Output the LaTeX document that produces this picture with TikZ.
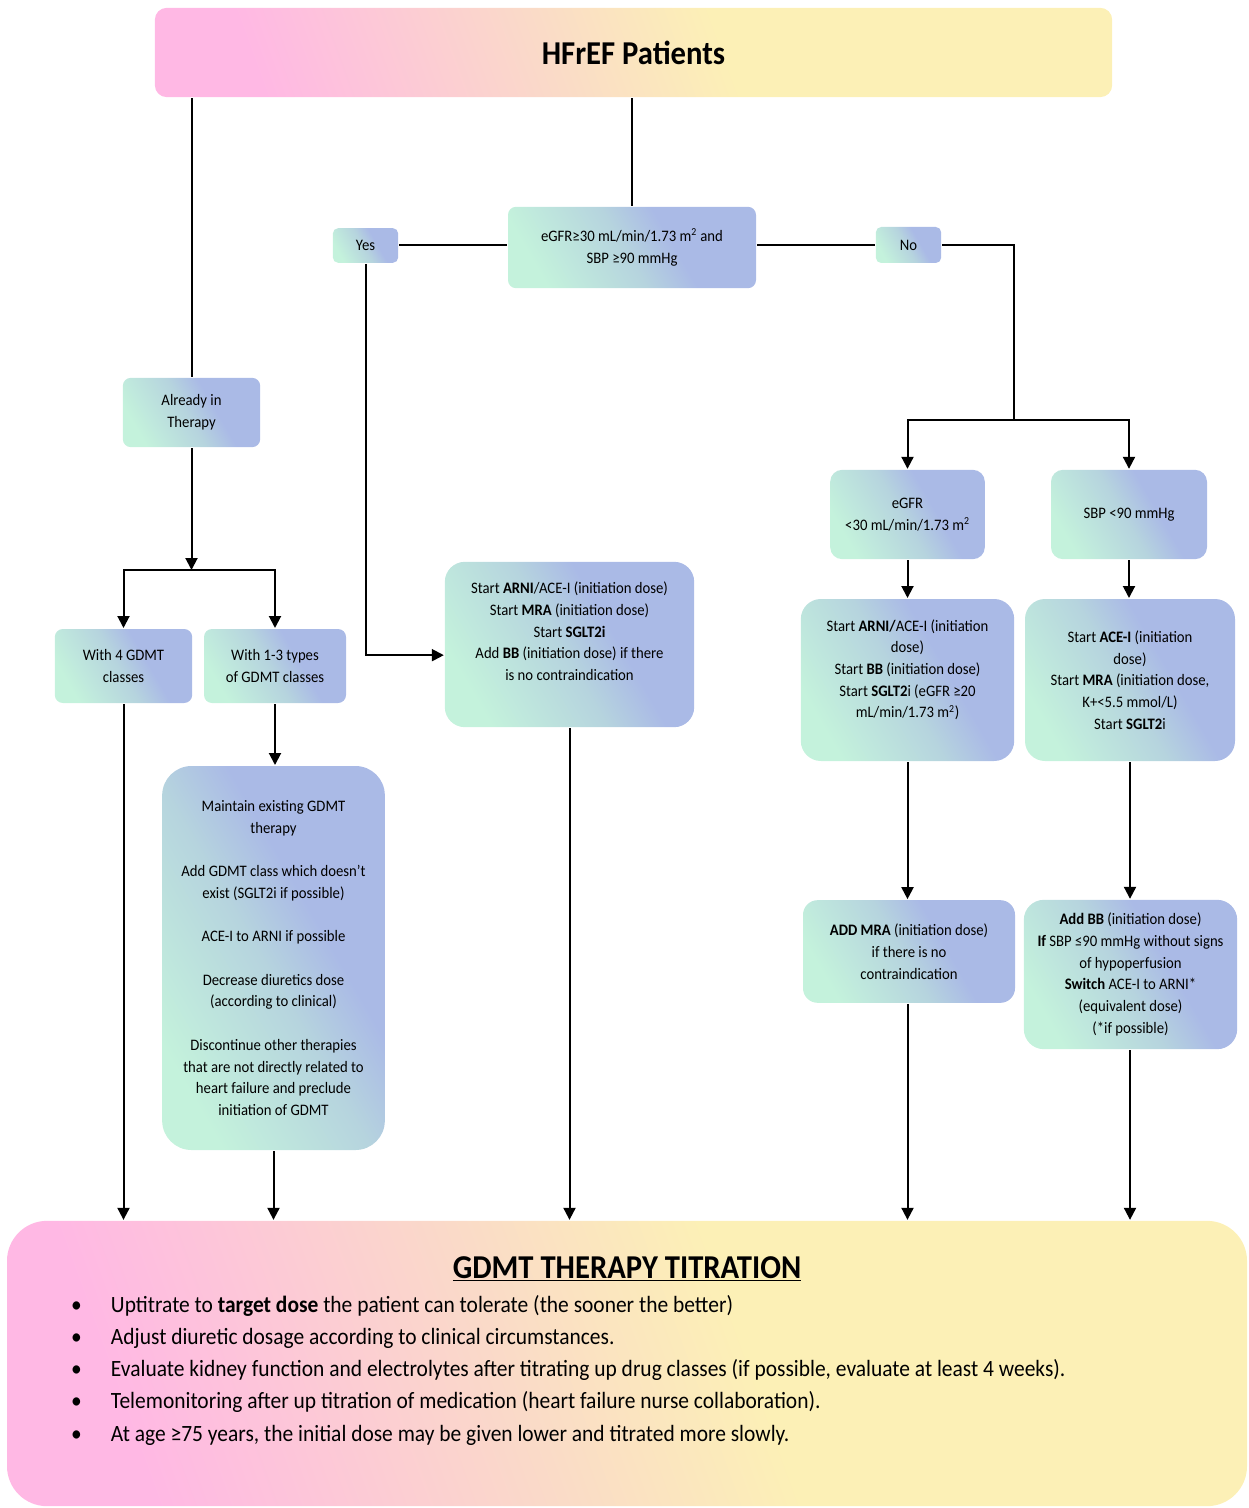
\documentclass[tikz,border=0pt]{standalone}
\usepackage{fontspec}
\setmainfont{Carlito}[FakeStretch=0.92]
\usetikzlibrary{arrows.meta}

\definecolor{boxgreen}{RGB}{196,242,220}
\definecolor{boxmid}{RGB}{182,212,222}
\definecolor{boxblue}{RGB}{170,186,230}
\definecolor{hpink}{RGB}{255,184,228}
\definecolor{hpeach}{RGB}{250,218,200}
\definecolor{hyellow}{RGB}{252,240,182}

\pgfdeclarehorizontalshading{gdmtbox}{100bp}{color(0bp)=(boxgreen); color(25bp)=(boxgreen); color(48bp)=(boxmid); color(60bp)=(boxblue); color(100bp)=(boxblue)}
\pgfdeclarehorizontalshading{gdmtwarm}{100bp}{color(0bp)=(hpink); color(25bp)=(hpink); color(44bp)=(hpeach); color(56bp)=(hyellow); color(100bp)=(hyellow)}

\tikzset{every picture/.style={line width=1.5pt}}
\tikzset{
  flowbox/.style={shading=gdmtbox, shading angle=30, rounded corners=6pt, align=center, inner sep=2pt, font=\fontsize{12}{16.3}\selectfont},
  bigbox/.style={flowbox, rounded corners=15pt},
  warmbox/.style={shading=gdmtwarm, shading angle=20, rounded corners=9pt},
  arr/.style={-{Triangle[length=9pt,width=9pt]}},
}

\begin{document}
\begin{tikzpicture}[x=0.75pt,y=0.75pt,yscale=-1,xscale=1]
\useasboundingbox (0,0) rectangle (1248,1508);

%Shape: header
\node (head) at (633.5,52.5) [warmbox, minimum width=718pt, minimum height=67pt, font=\fontsize{25}{30}\selectfont\bfseries] {HFrEF Patients};

%Shape: condition
\node (cond) at (632,247.5) [flowbox, minimum width=186pt, minimum height=61pt] {eGFR≥30 mL/min/1.73 m\textsuperscript{2} and\\SBP ≥90 mmHg};
\node (yes) at (365.5,245.5) [flowbox, rounded corners=4pt, minimum width=49pt, minimum height=26pt] {Yes};
\node (no) at (908.5,245) [flowbox, rounded corners=4pt, minimum width=49pt, minimum height=27pt] {No};

%Shape: left branch
\node (already) at (191.5,412.5) [flowbox, minimum width=103pt, minimum height=52pt] {Already in\\Therapy};
\node (with4) at (123.5,666) [flowbox, minimum width=103pt, minimum height=55.5pt] {With 4 GDMT\\classes};
\node (with13) at (275,666) [flowbox, minimum width=106.5pt, minimum height=55.5pt] {With 1-3 types\\of GDMT classes};
\node (maintain) at (273.5,958) [bigbox, rounded corners=22pt, minimum width=167pt, minimum height=288pt] {Maintain existing GDMT\\therapy\\[16.3pt]Add GDMT class which doesn't\\exist (SGLT2i if possible)\\[16.3pt]ACE-I to ARNI if possible\\[16.3pt]Decrease diuretics dose\\(according to clinical)\\[16.3pt]Discontinue other therapies\\that are not directly related to\\heart failure and preclude\\initiation of GDMT};

%Shape: yes branch
\node (startarni) at (569.5,644.5) [bigbox, text depth=20pt, minimum width=187pt, minimum height=124pt] {Start \textbf{ARNI}/ACE-I (initiation dose)\\Start \textbf{MRA} (initiation dose)\\Start \textbf{SGLT2i}\\Add \textbf{BB} (initiation dose) if there\\is no contraindication};

%Shape: no branch
\node (egfr) at (907.5,514.5) [flowbox, rounded corners=9pt, minimum width=116pt, minimum height=67pt] {eGFR\\<30 mL/min/1.73 m\textsuperscript{2}};
\node (sbp) at (1129,514.5) [flowbox, rounded corners=9pt, minimum width=117pt, minimum height=67pt] {SBP <90 mmHg};
\node (arnir) at (907.5,680) [bigbox, text depth=17pt, minimum width=160pt, minimum height=121.5pt] {Start \textbf{ARNI/}ACE-I (initiation\\dose)\\Start \textbf{BB} (initiation dose)\\Start \textbf{SGLT2}i (eGFR ≥20\\mL/min/1.73 m\textsuperscript{2})};
\node (acei) at (1130,680) [bigbox, minimum width=157.5pt, minimum height=121.5pt] {Start \textbf{ACE-I} (initiation\\dose)\\Start \textbf{MRA} (initiation dose,\\K+<5.5 mmol/L)\\Start \textbf{SGLT2}i};
\node (addmra) at (909,951.5) [bigbox, rounded corners=11pt, minimum width=159pt, minimum height=77pt] {\textbf{ADD MRA} (initiation dose)\\if there is no\\contraindication};
\node (addbb) at (1130.5,974.5) [bigbox, minimum width=160pt, minimum height=112pt] {\textbf{Add BB} (initiation dose)\\\textbf{If} SBP ≤90 mmHg without signs\\of hypoperfusion\\\textbf{Switch} ACE-I to ARNI*\\(equivalent dose)\\(*if possible)};

%Shape: titration
\node (titr) at (627,1363.5) [warmbox, rounded corners=30pt, minimum width=930pt, minimum height=214pt] {};
% Text Node
\node (titrhead) at (627,1269) [font=\fontsize{25}{28}\selectfont\bfseries] {\underline{GDMT THERAPY TITRATION}};
% Text Node
\node (titrlist) at (70,1294) [anchor=north west, inner sep=0pt, align=left, font=\fontsize{17.5}{24.2}\selectfont] {%
\makebox[30pt][l]{\textbullet}Uptitrate to \textbf{target dose} the patient can tolerate (the sooner the better)\\
\makebox[30pt][l]{\textbullet}Adjust diuretic dosage according to clinical circumstances.\\
\makebox[30pt][l]{\textbullet}Evaluate kidney function and electrolytes after titrating up drug classes (if possible, evaluate at least 4 weeks).\\
\makebox[30pt][l]{\textbullet}Telemonitoring after up titration of medication (heart failure nurse collaboration).\\
\makebox[30pt][l]{\textbullet}At age ≥75 years, the initial dose may be given lower and titrated more slowly.};

%Connectors: top
\draw (already.north |- head.south) -- (already.north);
\draw (cond.north |- head.south) -- (cond.north);
\draw (yes.east) -- (yes.east -| cond.west);
\draw (no.west) -- (no.west -| cond.east);

%Connectors: left
\coordinate (splitL) at (191.5,570);
\draw [arr] (already.south) -- (splitL);
\draw [arr] (splitL) -| (with4.north);
\draw [arr] (splitL) -| (with13.north);
\draw [arr] (with13.south) -- (with13.south |- maintain.north);

%Connectors: yes
\draw [arr] (yes.south) |- ([yshift=8pt]startarni.west);

%Connectors: no
\coordinate (splitR) at (1014,420);
\draw (no.east) -| (splitR);
\draw [arr] (splitR) -| (egfr.north);
\draw [arr] (splitR) -| (sbp.north);
\draw [arr] (egfr.south) -- (egfr.south |- arnir.north);
\draw [arr] (sbp.south) -- (sbp.south |- acei.north);
\draw [arr] (arnir.south) -- (addmra.north -| arnir.south);
\draw [arr] (acei.south) -- (addbb.north -| acei.south);

%Connectors: bottom
\draw [arr] (with4.south) -- (with4.south |- titr.north);
\draw [arr] (maintain.south) -- (maintain.south |- titr.north);
\draw [arr] (startarni.south) -- (startarni.south |- titr.north);
\draw [arr] (addmra.south -| arnir.south) -- (arnir.south |- titr.north);
\draw [arr] (addbb.south -| acei.south) -- (acei.south |- titr.north);

\end{tikzpicture}
\end{document}
